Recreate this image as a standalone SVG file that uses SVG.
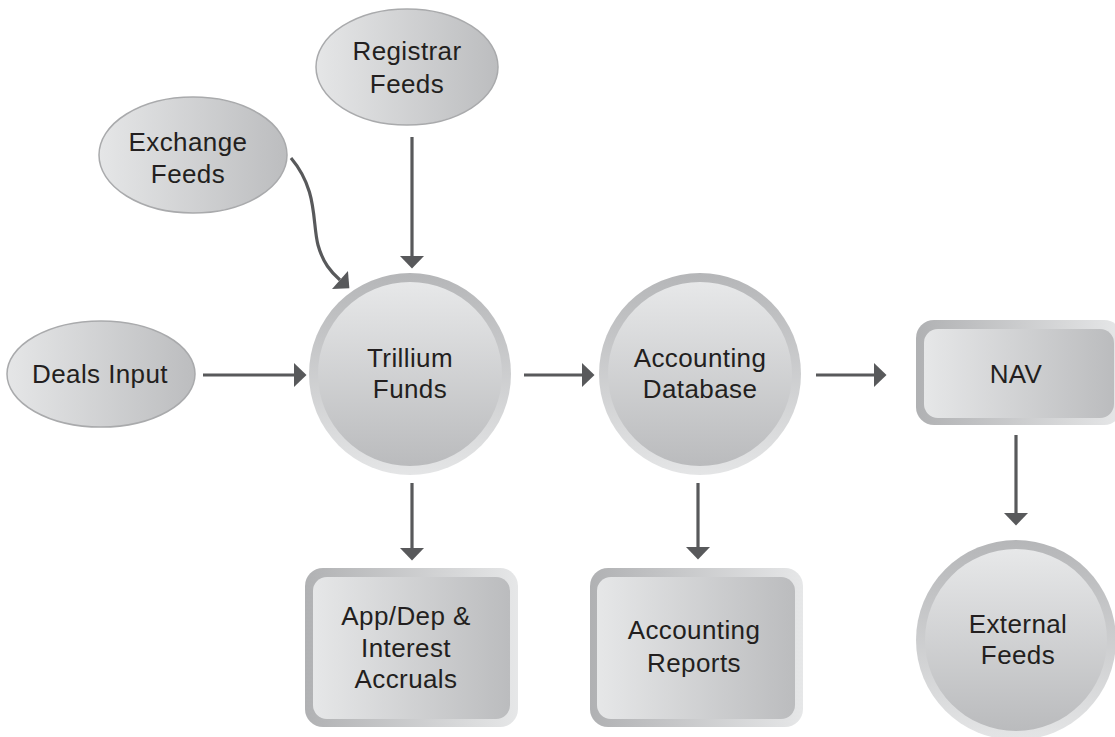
<svg xmlns="http://www.w3.org/2000/svg" width="1115" height="737" viewBox="0 0 1115 737">
<defs>
<linearGradient id="ringV" x1="0" y1="0" x2="0" y2="1"><stop offset="0" stop-color="#b5b6b8"/><stop offset="1" stop-color="#e4e5e6"/></linearGradient>
<linearGradient id="coreV" x1="0" y1="0" x2="0" y2="1"><stop offset="0" stop-color="#e7e8e9"/><stop offset="1" stop-color="#babbbd"/></linearGradient>
<linearGradient id="ringH" x1="0" y1="0" x2="1" y2="0"><stop offset="0" stop-color="#b0b1b3"/><stop offset="1" stop-color="#e6e7e8"/></linearGradient>
<linearGradient id="coreH" x1="0" y1="0" x2="1" y2="0"><stop offset="0" stop-color="#e6e7e8"/><stop offset="1" stop-color="#bbbcbe"/></linearGradient>
<linearGradient id="ell" x1="0" y1="0" x2="1" y2="0"><stop offset="0" stop-color="#e5e6e7"/><stop offset="1" stop-color="#bcbdbf"/></linearGradient>
<marker id="ah" markerUnits="userSpaceOnUse" markerWidth="14" markerHeight="24" viewBox="0 0 12 23" refX="0" refY="11.5" orient="auto"><path d="M0,0 L12,11.5 L0,23 Z" fill="#58595b"/></marker>
</defs>
<style>
.lbl{font-family:"Liberation Sans",Arial,Helvetica,sans-serif;font-size:26px;letter-spacing:0.4px;fill:#231f20;text-anchor:middle}
.ellipse{fill:url(#ell);stroke:#a9aaac;stroke-width:1.5}
.ring{fill:url(#ringV)}
.core{fill:url(#coreV)}
.rring{fill:url(#ringH)}
.rcore{fill:url(#coreH)}
.conn{fill:none;stroke:#58595b;stroke-width:3.2;marker-end:url(#ah)}
</style>
<rect width="1115" height="737" fill="#ffffff"/>

<g id="connectors">
<path class="conn" d="M203,375 L294,375"/>
<path class="conn" d="M412,137 L412,256"/>
<path class="conn" d="M291,158 C318,190 312,222 318,245 C323,263 331,272 340,280"/>
<path class="conn" d="M524,375 L582,375"/>
<path class="conn" d="M816,375 L874,375"/>
<path class="conn" d="M412,483 L412,548"/>
<path class="conn" d="M698,483 L698,547"/>
<path class="conn" d="M1016,435 L1016,513"/>
</g>

<g id="registrar-feeds">
<ellipse class="ellipse" cx="407" cy="67" rx="91" ry="58"/>
<text class="lbl" x="407" y="60">Registrar</text>
<text class="lbl" x="407" y="93">Feeds</text>
</g>

<g id="exchange-feeds">
<ellipse class="ellipse" cx="193" cy="155" rx="94" ry="58"/>
<text class="lbl" x="188" y="151">Exchange</text>
<text class="lbl" x="188" y="183">Feeds</text>
</g>

<g id="deals-input">
<ellipse class="ellipse" cx="101" cy="374" rx="94" ry="53"/>
<text class="lbl" x="100" y="383">Deals Input</text>
</g>

<g id="trillium-funds">
<circle class="ring" cx="410" cy="374" r="101"/>
<circle class="core" cx="410" cy="374" r="92"/>
<text class="lbl" x="410" y="367">Trillium</text>
<text class="lbl" x="410" y="398">Funds</text>
</g>

<g id="accounting-database">
<circle class="ring" cx="700" cy="374" r="101"/>
<circle class="core" cx="700" cy="374" r="92"/>
<text class="lbl" x="700" y="367">Accounting</text>
<text class="lbl" x="700" y="398">Database</text>
</g>

<g id="nav">
<rect class="rring" x="916" y="320" width="206" height="105" rx="18"/>
<rect class="rcore" x="924" y="329" width="190" height="89" rx="14"/>
<text class="lbl" x="1016" y="383">NAV</text>
</g>

<g id="app-dep-interest-accruals">
<rect class="rring" x="305" y="568" width="213" height="159" rx="18"/>
<rect class="rcore" x="313" y="577" width="197" height="142" rx="14"/>
<text class="lbl" x="406" y="625">App/Dep &amp;</text>
<text class="lbl" x="406" y="657">Interest</text>
<text class="lbl" x="406" y="688">Accruals</text>
</g>

<g id="accounting-reports">
<rect class="rring" x="590" y="568" width="213" height="159" rx="18"/>
<rect class="rcore" x="597" y="577" width="198" height="142" rx="14"/>
<text class="lbl" x="694" y="639">Accounting</text>
<text class="lbl" x="694" y="672">Reports</text>
</g>

<g id="external-feeds">
<circle class="ring" cx="1016" cy="640" r="100"/>
<circle class="core" cx="1016" cy="640" r="91"/>
<text class="lbl" x="1018" y="633">External</text>
<text class="lbl" x="1018" y="664">Feeds</text>
</g>
</svg>
